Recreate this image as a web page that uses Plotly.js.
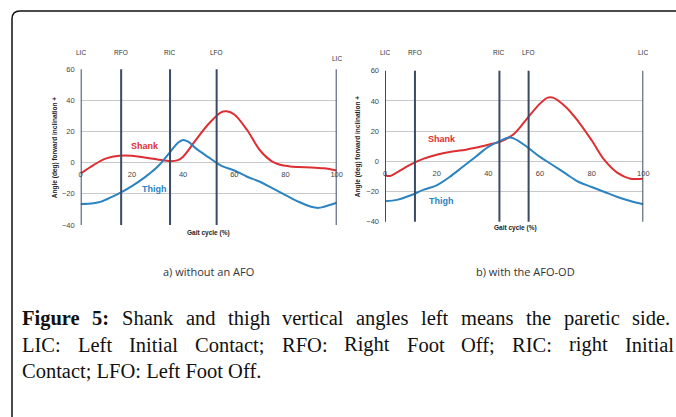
<!DOCTYPE html>
<html><head><meta charset="utf-8">
<script src="https://cdn.plot.ly/plotly-3.0.1.min.js"></script>
<style>body{margin:0;padding:0;background:#fff}#chart{width:676px;height:417px}</style>
</head><body><div id="chart"></div>
<script>
// ---- data ----
const gaitA = [0,5,10,15,20,25,30,35,38,40,45,50,55,57,60,65,70,75,80,85,90,95,100];
const shankA = [-6.9,-1.5,2.8,4.5,4.5,3.4,2.1,1.0,1.7,3.9,14.6,25,32.5,33,31,21,8,0.6,-2,-2.8,-3,-3.6,-5];
const gaitAThigh = [0,5,8,10,15,20,25,30,35,38,40,42,45,50,53,55,60,65,70,75,80,85,90,93,95,100];
const thighA = [-26.5,-26,-25,-23.6,-19.7,-15,-9.4,-2.6,7,12.8,14.6,13.5,9.2,3.4,0,-2,-5,-9,-12.2,-16.5,-20.8,-25,-28.3,-29,-28.3,-25.7];

const gaitB = [0,2,5,10,15,20,25,30,35,40,45,50,55,60,63,65,70,75,80,85,90,95,100];
const shankB = [-9.3,-9.7,-7,-2,1.8,4.4,6.2,7.3,9,11,13.2,18.3,28.3,38.2,42.2,42.2,36,26,13.9,0.7,-7.7,-11.5,-11.5];
const gaitBThigh = [0,5,10,15,20,25,30,35,40,45,48,50,55,60,65,70,75,80,85,90,95,100];
const thighB = [-26.5,-25.4,-22.5,-18.8,-15.9,-10.4,-3.8,2.9,9.5,13.9,15.7,15,9.5,2.9,-2.6,-8.2,-13.7,-17,-20.3,-23.6,-26.3,-28.5];

const eventLabels = ['LIC','RFO','RIC','LFO','LIC'];
const eventsA = [0,15.8,34.9,53.1,100];
const eventsB = [0,11.6,44.3,55.6,100];

const xTicks = [0,20,40,60,80,100];
const yTicks = [-40,-20,0,20,40,60];

const captionLine1 = ['Figure 5:', 'Shank and thigh vertical angles left means the paretic side.'];
const captionLine2 = 'LIC: Left Initial Contact; RFO: Right Foot Off; RIC: right Initial';
const captionLine3 = 'Contact; LFO: Left Foot Off.';

const RED = '#dd2f32', BLUE = '#2b83c0', EVT = '#3c4a66';
const chartFont = 'Liberation Sans, Arial, sans-serif';

const traces = [
  {x: gaitA, y: shankA, xaxis:'x', yaxis:'y', mode:'lines', line:{color:RED, width:2, shape:'spline', smoothing:1}},
  {x: gaitAThigh, y: thighA, xaxis:'x', yaxis:'y', mode:'lines', line:{color:BLUE, width:2, shape:'spline', smoothing:1}},
  {x: gaitB, y: shankB, xaxis:'x2', yaxis:'y2', mode:'lines', line:{color:RED, width:2, shape:'spline', smoothing:1}},
  {x: gaitBThigh, y: thighB, xaxis:'x2', yaxis:'y2', mode:'lines', line:{color:BLUE, width:2, shape:'spline', smoothing:1}}
];

// geometry (paper fractions)
const W = 676, H = 417;
const fx = px => px / W, fy = py => 1 - py / H;
const domA = {x:[fx(80.7), fx(336.7)], y:[fy(225), fy(69.3)]};
const domB = {x:[fx(385), fx(643.3)], y:[fy(221.7), fy(70.7)]};
const zeroPos = d => d.y[0] + (d.y[1]-d.y[0]) * 0.4;

const xAxisBase = {range:[0,100], tickvals:xTicks, showgrid:false, zeroline:false, showline:false,
  ticks:'', ticklabelstandoff:6, tickfont:{family:chartFont, size:7.5, color:'#444'}, anchor:'free', fixedrange:true};
const yAxisBase = {range:[-40,60], tickvals:yTicks, showgrid:true, gridcolor:'#c9c9c9', gridwidth:1,
  zeroline:false, showline:false, ticks:'', ticklabelstandoff:5, tickfont:{family:chartFont, size:7.5, color:'#444'}};

const shapes = [];
function addEvents(evts, xr, yr) {
  evts.forEach(v => shapes.push({type:'line', xref:xr, yref:yr+' domain', x0:v, x1:v, y0:0, y1:1,
    line:{color:EVT, width:2}}));
}
addEvents(eventsA, 'x', 'y');
addEvents(eventsB, 'x2', 'y2');
// frame
shapes.push({type:'path', xref:'paper', yref:'paper',
  path:`M ${fx(12)},0 L ${fx(12)},${fy(19)} Q ${fx(12)},${fy(11)} ${fx(20)},${fy(11)} L 1,${fy(11)}`,
  line:{color:'#111', width:1.5}});

const annotations = [];
function addEventLabels(evts, xr, ys) {
  evts.forEach((v,i) => annotations.push({x:v, xref:xr, y:fy(ys[i]), yref:'paper', text:eventLabels[i],
    showarrow:false, font:{family:chartFont, size:6.5, color:'#333'}, xanchor:'center', yanchor:'middle'}));
}
addEventLabels(eventsA, 'x', [53,53,52,52,58]);
addEventLabels(eventsB, 'x2', [53,53,53,53,53]);

const tag = (text, x, xr, py, color) => ({x:x, xref:xr, y:fy(py), yref:'paper', text:'<b>'+text+'</b>',
  showarrow:false, font:{family:chartFont, size:9, color:color}, xanchor:'center', yanchor:'middle'});
annotations.push(tag('Shank', 25, 'x', 146, RED));
annotations.push(tag('Thigh', 29, 'x', 189, BLUE));
annotations.push(tag('Shank', 22, 'x2', 139, RED));
annotations.push(tag('Thigh', 22, 'x2', 200.5, BLUE));

const smallBold = {family:chartFont, size:6.5, color:'#222'};
annotations.push({x:fx(208), y:fy(233), xref:'paper', yref:'paper', text:'<b>Gait cycle (%)</b>', showarrow:false,
  font:smallBold, xanchor:'center', yanchor:'middle'});
annotations.push({x:fx(515), y:fy(228), xref:'paper', yref:'paper', text:'<b>Gait cycle (%)</b>', showarrow:false,
  font:smallBold, xanchor:'center', yanchor:'middle'});
annotations.push({x:fx(55), y:(domA.y[0]+domA.y[1])/2, xref:'paper', yref:'paper', textangle:-90,
  text:'<b>Angle (deg) forward inclination +</b>', showarrow:false, font:smallBold, xanchor:'center', yanchor:'middle'});
annotations.push({x:fx(358), y:(domB.y[0]+domB.y[1])/2, xref:'paper', yref:'paper', textangle:-90,
  text:'<b>Angle (deg) forward inclination +</b>', showarrow:false, font:smallBold, xanchor:'center', yanchor:'middle'});

const subFont = {family:'Open Sans, Liberation Sans, sans-serif', size:11, color:'#333'};
annotations.push({x:fx(208), y:fy(271), xref:'paper', yref:'paper', text:'a) without an AFO', showarrow:false, font:subFont, xanchor:'center', yanchor:'middle'});
annotations.push({x:fx(525), y:fy(271), xref:'paper', yref:'paper', text:'b) with the AFO-OD', showarrow:false, font:subFont, xanchor:'center', yanchor:'middle'});

// caption: justified lines built word by word
const CAP_SIZE = 20.5, CAP_FAM = 'Liberation Serif';
const capFont = {family:'Liberation Serif, Times New Roman, serif', size:CAP_SIZE, color:'#111'};
const ctx = document.createElement('canvas').getContext('2d');
function measure(word, bold) {
  ctx.font = (bold ? 'bold ' : '') + CAP_SIZE + 'px "' + CAP_FAM + '"';
  return ctx.measureText(word).width;
}
function justify(words, x0, x1, py) {
  const widths = words.map(w => measure(w.t, w.b));
  const total = widths.reduce((a,b) => a+b, 0);
  const gap = (x1 - x0 - total) / (words.length - 1);
  let x = x0;
  words.forEach((w,i) => {
    annotations.push({x:fx(x), y:fy(py), xref:'paper', yref:'paper', xanchor:'left', yanchor:'middle',
      showarrow:false, borderpad:0, text: w.b ? '<b>'+w.t+'</b>' : w.t, font:capFont});
    x += widths[i] + gap;
  });
}
const l1 = captionLine1[0].split(' ').map(t => ({t, b:true})).concat(captionLine1[1].split(' ').map(t => ({t, b:false})));
justify(l1, 21, 669, 318);
justify(captionLine2.split(' ').map(t => ({t, b:false})), 21, 673, 344.5);
annotations.push({x:fx(21), y:fy(371), xref:'paper', yref:'paper', xanchor:'left', yanchor:'middle', showarrow:false,
  borderpad:0, text:captionLine3, font:capFont});

const layout = {
  width:W, height:H, margin:{l:0,r:0,t:0,b:0}, paper_bgcolor:'#fff', plot_bgcolor:'#fff', showlegend:false,
  xaxis: Object.assign({}, xAxisBase, {domain:domA.x, position:zeroPos(domA)}),
  yaxis: Object.assign({}, yAxisBase, {domain:domA.y, anchor:'x'}),
  xaxis2: Object.assign({}, xAxisBase, {domain:domB.x, position:zeroPos(domB)}),
  yaxis2: Object.assign({}, yAxisBase, {domain:domB.y, anchor:'x2'}),
  shapes:shapes, annotations:annotations
};
Plotly.newPlot('chart', traces, layout, {staticPlot:true});
</script></body></html>
